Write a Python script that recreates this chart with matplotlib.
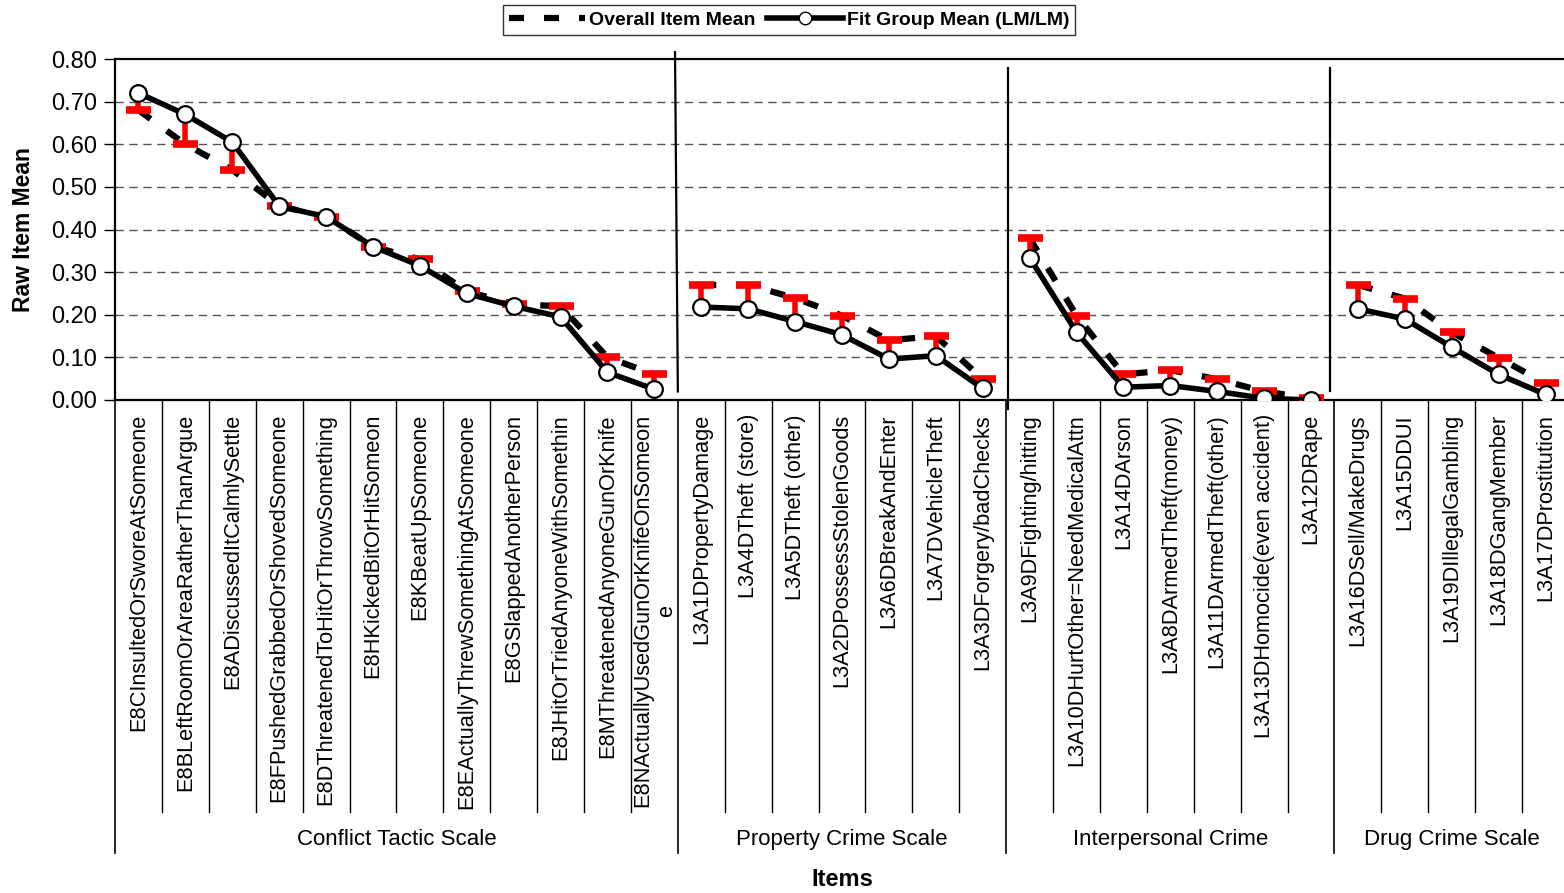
import matplotlib
matplotlib.use("Agg")
import matplotlib.pyplot as plt
import numpy as np
from matplotlib.lines import Line2D

plt.rcParams['font.family'] = ['Liberation Sans', 'DejaVu Sans']

groups = ["Conflict Tactic Scale", "Property Crime Scale", "Interpersonal Crime", "Drug Crime Scale"]

conflict_items = ["E8CInsultedOrSworeAtSomeone", "E8BLeftRoomOrAreaRatherThanArgue",
                  "E8ADiscussedItCalmlySettle", "E8FPushedGrabbedOrShovedSomeone",
                  "E8DThreatenedToHitOrThrowSomething", "E8HKickedBitOrHitSomeon",
                  "E8KBeatUpSomeone", "E8EActuallyThrewSomethingAtSomeone",
                  "E8GSlappedAnotherPerson", "E8JHitOrTriedAnyoneWithSomethin",
                  "E8MThreatenedAnyoneGunOrKnife", "E8NActuallyUsedGunOrKnifeOnSomeon\ne"]
conflict_overall = [0.68, 0.60, 0.54, 0.455, 0.43, 0.36, 0.33, 0.255, 0.225, 0.22, 0.10, 0.06]
conflict_fit = [0.72, 0.67, 0.605, 0.455, 0.43, 0.36, 0.315, 0.25, 0.22, 0.195, 0.065, 0.025]

property_items = ["L3A1DPropertyDamage", "L3A4DTheft (store)", "L3A5DTheft (other)",
                  "L3A2DPossessStolenGoods", "L3A6DBreakAndEnter", "L3A7DVehicleTheft",
                  "L3A3DForgery/badChecks"]
property_overall = [0.27, 0.27, 0.239, 0.198, 0.14, 0.15, 0.049]
property_fit = [0.218, 0.214, 0.184, 0.153, 0.096, 0.104, 0.027]

interpersonal_items = ["L3A9DFighting/hitting", "L3A10DHurtOther=NeedMedicalAttn", "L3A14DArson",
                       "L3A8DArmedTheft(money)", "L3A11DArmedTheft(other)",
                       "L3A13DHomocide(even accident)", "L3A12DRape"]
interpersonal_overall = [0.38, 0.198, 0.06, 0.07, 0.049, 0.02, 0.004]
interpersonal_fit = [0.334, 0.159, 0.03, 0.034, 0.02, 0.004, 0.0]

drug_items = ["L3A16DSell/MakeDrugs", "L3A15DDUI", "L3A19DIllegalGambling",
              "L3A18DGangMember", "L3A17DProstitution"]
drug_overall = [0.27, 0.238, 0.159, 0.099, 0.039]
drug_fit = [0.214, 0.19, 0.124, 0.06, 0.013]

yticks = [0.0, 0.1, 0.2, 0.3, 0.4, 0.5, 0.6, 0.7, 0.8]

group_items = [conflict_items, property_items, interpersonal_items, drug_items]
group_overall = [conflict_overall, property_overall, interpersonal_overall, drug_overall]
group_fit = [conflict_fit, property_fit, interpersonal_fit, drug_fit]

W, H = 1564, 893
fig = plt.figure(figsize=(W / 100, H / 100), dpi=100)
ax_left = 115 / W
ax_w = 1454 / W
ax_bottom = 1 - 400 / H
ax_h = (400 - 59) / H
ax = fig.add_axes([ax_left, ax_bottom, ax_w, ax_h])

n_total = sum(len(g) for g in group_items)
ax.set_xlim(-0.5, n_total - 0.5)
ax.set_ylim(0, 0.8)

ax.set_yticks(yticks)
ax.set_yticklabels([f"{v:.2f}" for v in yticks], fontsize=17)
ax.tick_params(axis='y', direction='out', length=8, width=1, pad=5)
for v in yticks[1:-1]:
    ax.axhline(v, color='#555555', linestyle=(0, (6, 4)), linewidth=1.0, zorder=0.5)

ax.set_xticks([])
ax.spines['right'].set_visible(False)
for s in ['top', 'left', 'bottom']:
    ax.spines[s].set_linewidth(1.6)

xform = ax.get_xaxis_transform()
start = 0
line_bottom_item = -(812 - 400) / (400 - 59)
line_bottom_group = -(853 - 400) / (400 - 59)
label_top = -(414 - 400) / (400 - 59)
group_label_y = -(840 - 400) / (400 - 59)

for gi, (items, ov, fit) in enumerate(zip(group_items, group_overall, group_fit)):
    n = len(items)
    x = np.arange(start, start + n)
    ov = np.array(ov)
    fit = np.array(fit)
    ax.plot(x, ov, color='black', linewidth=4.5, linestyle=(0, (2.4, 3.2)), zorder=2,
            dash_capstyle='butt')
    ax.vlines(x, fit, ov, color='red', linewidth=4, zorder=3)
    ax.plot(x, ov, linestyle='none', marker='_', markersize=18, markeredgewidth=5.5,
            color='red', zorder=3)
    ax.plot(x, fit, color='black', linewidth=4.0, marker='o', markersize=12,
            markerfacecolor='white', markeredgecolor='black', markeredgewidth=1.6, zorder=4)
    # item labels
    for i, lab in enumerate(items):
        ax.text(start + i, label_top, lab, transform=xform, rotation=90, ha='center', va='top',
                fontsize=15.7, multialignment='center', clip_on=False)
    # item separators
    for i in range(1, n):
        ax.plot([start + i - 0.5] * 2, [0, line_bottom_item], transform=xform, color='black',
                linewidth=1.0, clip_on=False)
    # group separator
    ax.plot([start - 0.5] * 2, [0, line_bottom_group], transform=xform, color='black',
            linewidth=1.2, clip_on=False)
    ax.text(start + (n - 1) / 2, group_label_y, groups[gi], transform=xform, ha='center',
            va='center', fontsize=16, clip_on=False)
    start += n

# vertical separators in plot
bounds = [len(conflict_items), len(conflict_items) + len(property_items),
          len(conflict_items) + len(property_items) + len(interpersonal_items)]
ax.plot([bounds[0] - 0.56, bounds[0] - 0.5], [0.816, 0.02], color='black', linewidth=1.6,
        clip_on=False, zorder=5)
ax.plot([bounds[1] - 0.47, bounds[1] - 0.47], [0.778, -0.022], color='black', linewidth=1.6,
        clip_on=False, zorder=5)
ax.plot([bounds[2] - 0.6, bounds[2] - 0.6], [0.778, 0.02], color='black', linewidth=1.6,
        clip_on=False, zorder=5)

ax.set_ylabel("Raw Item Mean", fontsize=16.5, fontweight='bold')
ax.yaxis.set_label_coords(-(115 - 35) / 1454, 0.5)
fig.text(842 / W, 1 - 879 / H, "Items", ha='center', va='center', fontsize=17, fontweight='bold')

handles = [Line2D([], [], color='black', linewidth=4.5, linestyle=(0, (2.4, 3.2))),
           Line2D([], [], color='black', linewidth=4.0, marker='o', markersize=9,
                  markerfacecolor='white', markeredgecolor='black')]
leg = fig.legend(handles, ["Overall Item Mean", "Fit Group Mean (LM/LM)"], ncol=2,
                 loc='center', bbox_to_anchor=(789 / W, 1 - 20 / H), frameon=True,
                 fancybox=False, edgecolor='black', prop={'weight': 'bold', 'size': 14},
                 handlelength=3.9, columnspacing=0.6, handletextpad=0.2, borderpad=0.3)
leg.get_frame().set_linewidth(1.0)

fig.savefig("out.png", dpi=100)
